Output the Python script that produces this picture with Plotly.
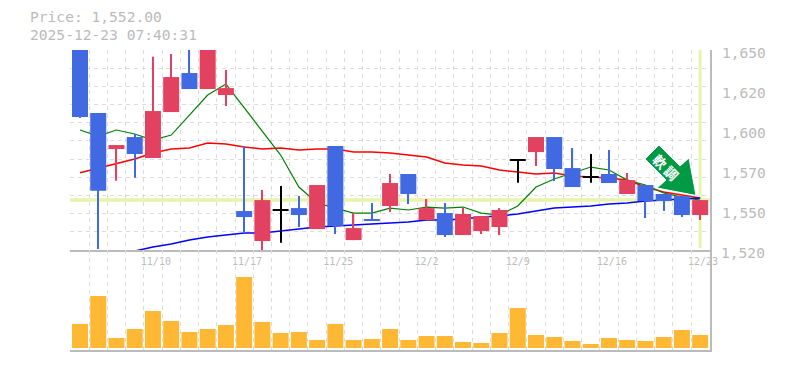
import numpy as np
import plotly.graph_objects as go

dates_idx = [4.16, 9.16, 14.16, 19, 24, 29.16, 34.16]
date_labels = ["11/10", "11/17", "11/25", "12/2", "12/9", "12/16", "12/23"]
price_ticks = [1650, 1625, 1600, 1575, 1550]
price_labels = ["1,650", "1,620", "1,600", "1,570", "1,550"]

opens = [1665, 1612.5, 1590, 1597.5, 1584.4, 1613.1, 1637.5, 1627.5, 1623.75, 1551.25, 1532.5, 1551.7,
         1553.1, 1540, 1591.9, 1533.1, 1546.25, 1554.4, 1574.4, 1545.6, 1550, 1536.25, 1538.75, 1541.25,
         1583.1, 1588.1, 1597.5, 1578.1, 1572.3, 1574.4, 1561.9, 1567.5, 1561.9, 1560.6, 1548.75]
highs = [1670, 1612.5, 1592.5, 1599.4, 1647.7, 1649.4, 1660, 1665, 1639.4, 1591.9, 1564.4, 1566.9,
         1560.6, 1567.5, 1591.9, 1550.2, 1556.25, 1574.4, 1574.4, 1558.75, 1556.25, 1553.1, 1548.1, 1553.1,
         1583.1, 1597.5, 1597.5, 1590.6, 1586.9, 1589.4, 1575, 1567.5, 1561.9, 1560.6, 1558.1]
lows = [1609.4, 1527.5, 1570.2, 1572, 1584.4, 1613.1, 1627.5, 1627.5, 1616.9, 1537.5, 1526.25, 1531.4,
        1541.25, 1540, 1536.9, 1533.1, 1545, 1550.6, 1555.6, 1545.6, 1535, 1536.25, 1536.9, 1536.25,
        1569, 1579.4, 1570, 1566.25, 1569, 1568.75, 1561.9, 1546.9, 1551.25, 1547.5, 1545.6]
closes = [1610, 1564, 1592.5, 1586.9, 1613.75, 1635, 1627.5, 1660, 1628.1, 1547.5, 1558.1, 1551.7,
          1548.75, 1567.5, 1541.9, 1540.6, 1545, 1568.75, 1561.9, 1553.1, 1536.25, 1549.4, 1548.1, 1551.9,
          1583.1, 1597.5, 1577.5, 1566.25, 1572.3, 1568.75, 1570.6, 1557.5, 1557.5, 1548.75, 1558.1]
ma_short = [1601.9, 1598.1, 1601.9, 1599.4, 1595.6, 1598.75, 1611.25, 1623.75, 1630.6, 1615.6, 1601.25, 1586.25,
            1566.25, 1556.25, 1553.1, 1550, 1550, 1553.1, 1551.9, 1553.75, 1553.1, 1553.75, 1550, 1548.75,
            1554.4, 1566.25, 1571.25, 1575, 1578.75, 1576.9, 1570.6, 1567.5, 1562.5, 1560, 1558.1]
ma_mid = [1575.2, 1578.1, 1580.6, 1583.75, 1587.5, 1590, 1590.6, 1593.75, 1593.1, 1591.25, 1590, 1590.6,
          1589.4, 1590, 1590, 1588.1, 1588.1, 1587.5, 1586.25, 1585, 1581.25, 1580, 1579.4, 1576.9,
          1575.6, 1574.4, 1575, 1573.1, 1572.5, 1571.9, 1570.6, 1566.25, 1563.1, 1561.25, 1559.4]
ma_long = [None, None, None, 1526.25, 1528.75, 1530.6, 1533.1, 1535, 1536.25, 1537.5, 1537.5, 1538.75,
           1540, 1541.25, 1541.9, 1542.5, 1543.1, 1543.75, 1544.4, 1545.6, 1545.6, 1546.25, 1547.5, 1548.1,
           1549.4, 1551.25, 1553.1, 1553.75, 1554.4, 1555.6, 1556.25, 1557.5, 1558.1, 1558.75, 1559.4]
volumes = [2400, 5200, 1000, 1900, 3700, 2700, 1600, 1900, 2300, 7100, 2600, 1500, 1600, 800, 2400, 800, 900, 1900,
           800, 1200, 1200, 600, 500, 1500, 4000, 1300, 1100, 700, 400, 1000, 800, 700, 1100, 1800, 1300]
last_price = 1558.1

GREY = "#bbbbbb"
GRID = "#dddddd"
HILITE = "#e6f5aa"
RED = "#e24260"
BLUE = "#4169e1"
MONO = "DejaVu Sans Mono, monospace"

xs = list(range(len(opens)))
XR = [-0.548, 34.54]
YR = [1526.9, 1651.9]
# the page has an 8px body margin
L, R, T, B = 62, 75, 42, 20
W, H = 777, 362
PW, PH = W - L - R, H - T - B


def px(x):
    return (x - 8 - L) / PW


def py(y):
    return (H - B - (y - 8)) / PH


colors = [RED if c > o else BLUE if c < o else "black" for o, c in zip(opens, closes)]
body_base = [min(o, c) if o != c else o - 0.3 for o, c in zip(opens, closes)]
body_h = [abs(o - c) if o != c else 0.6 for o, c in zip(opens, closes)]

fig = go.Figure()
fig.add_trace(go.Scatter(x=XR, y=[last_price, last_price], mode="lines",
                         line=dict(color=HILITE, width=3.5), xaxis="x", yaxis="y", hoverinfo="skip"))
fig.add_trace(go.Scatter(x=[xs[-1], xs[-1]], y=[YR[1], 1528], mode="lines",
                         line=dict(color=HILITE, width=3), xaxis="x", yaxis="y", hoverinfo="skip"))
for vals, col, lw in ((ma_mid, "#ff0000", 1.5), (ma_short, "#008000", 1.2), (ma_long, "#0000ff", 1.5)):
    fig.add_trace(go.Scatter(x=xs, y=vals, mode="lines", line=dict(color=col, width=lw),
                             xaxis="x", yaxis="y", hoverinfo="skip"))
fig.add_trace(go.Bar(x=xs, base=lows, y=[h - l for h, l in zip(highs, lows)], width=0.07,
                     marker=dict(color=colors, line=dict(width=0)), xaxis="x", yaxis="y3"))
fig.add_trace(go.Bar(x=xs, base=body_base, y=body_h, width=0.877,
                     marker=dict(color=colors, line=dict(width=0)), xaxis="x", yaxis="y3"))
fig.add_trace(go.Bar(x=xs, y=volumes, width=0.877, marker=dict(color="#ffb833", line=dict(width=0)),
                     xaxis="x2", yaxis="y2"))

minor_x = dict(tickmode="array", tickvals=[i - 0.5 for i in range(36)], showgrid=True,
               gridcolor=GRID, griddash="4px,4px", gridwidth=1, ticklen=0)
minor_y = dict(tickmode="array", tickvals=list(np.linspace(YR[1], YR[0], 12)), showgrid=True,
               gridcolor=GRID, griddash="4px,4px", gridwidth=1, ticklen=0)
arrow = [(659, 145), (645, 159), (666, 180), (657, 188), (696, 195.5), (689, 158), (680, 166)]
path = "M " + " L ".join(f"{px(x):.5f} {py(y):.5f}" for x, y in arrow) + " Z"

fig.update_layout(
    width=W, height=H, margin=dict(l=L, r=R, t=T, b=B), paper_bgcolor="white", plot_bgcolor="white",
    barmode="overlay", showlegend=False, font=dict(family=MONO, color=GREY, size=14.6),
    xaxis=dict(domain=[0, 1], range=XR, anchor="y", tickmode="array", tickvals=dates_idx, ticktext=date_labels,
               showgrid=False, minor=minor_x, ticks="outside", ticklen=1, tickcolor="rgba(0,0,0,0)",
               tickfont=dict(size=10, color=GREY), showline=True, linecolor=GREY, linewidth=2, zeroline=False),
    xaxis2=dict(domain=[0, 1], matches="x", anchor="y2", showticklabels=False, showgrid=False, minor=minor_x,
                showline=True, linecolor=GREY, linewidth=2, ticks="", zeroline=False),
    yaxis=dict(domain=[1 / 3, 1], range=YR, anchor="x", side="right", tickmode="array", tickvals=price_ticks,
               ticktext=price_labels, showgrid=False, minor=minor_y, ticks="outside", ticklen=7,
               tickcolor="rgba(0,0,0,0)", showline=True, linecolor=GREY, linewidth=2, zeroline=False),
    yaxis2=dict(domain=[0, 1 / 3], range=[-200, 9800], anchor="x2", side="right", showticklabels=False,
                showgrid=False, showline=True, linecolor=GREY, linewidth=2, zeroline=False, ticks=""),
    yaxis3=dict(overlaying="y", range=YR, side="right", visible=False, showgrid=False, zeroline=False),
    shapes=[dict(type="path", xref="paper", yref="paper", path=path, fillcolor="#009944",
                 line=dict(color="white", width=1), layer="above")],
    annotations=[
        dict(text="Price: 1,552.00", xref="paper", yref="paper", x=px(28), y=py(17), xanchor="left",
             yanchor="middle", showarrow=False, font=dict(size=14.6, color=GREY)),
        dict(text="2025-12-23 07:40:31", xref="paper", yref="paper", x=px(28), y=py(34), xanchor="left",
             yanchor="middle", showarrow=False, font=dict(size=14.6, color=GREY)),
        dict(text="1,520", xref="paper", yref="paper", x=px(719), y=py(252), xanchor="left",
             yanchor="middle", showarrow=False, font=dict(size=14.6, color=GREY)),
        dict(text="<b>軟 調</b>", xref="paper", yref="paper", x=px(666), y=py(167), xanchor="center", yanchor="middle",
             showarrow=False, textangle=45, font=dict(family="Noto Sans CJK JP", size=13.5, color="white")),
    ],
)
fig.write_html("out.html")
